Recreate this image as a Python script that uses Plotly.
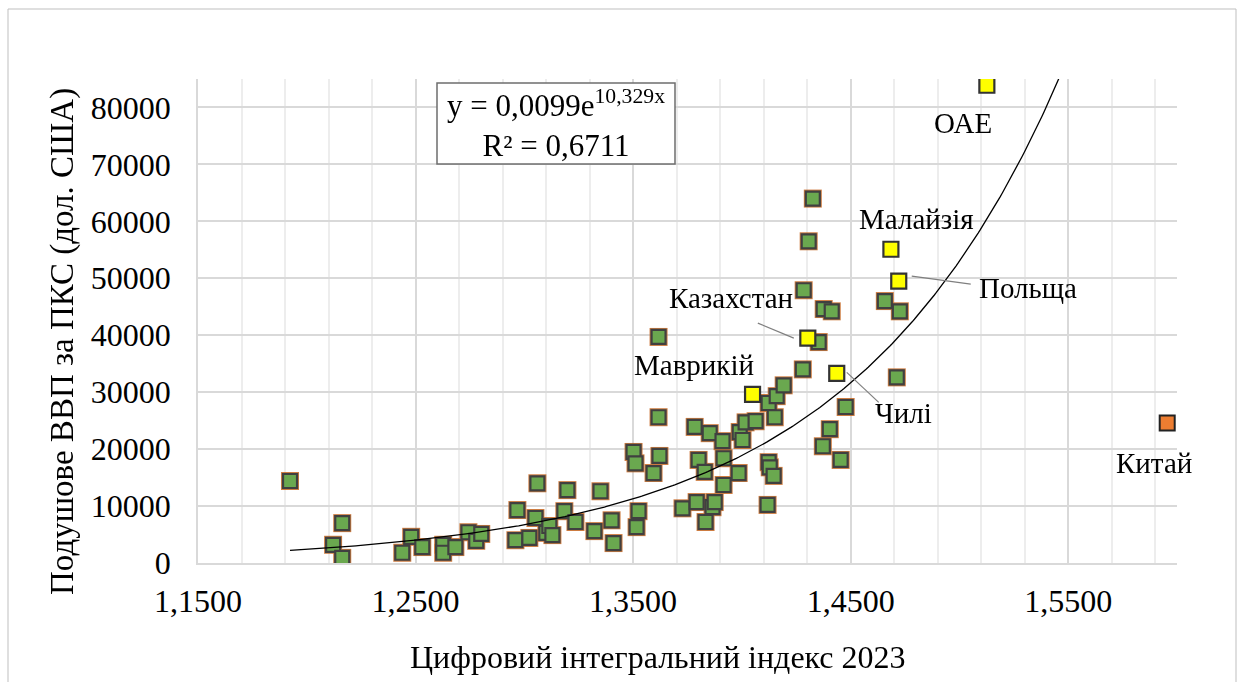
import numpy as np
import plotly.graph_objects as go

# ---------------- data ----------------
green_x = [1.1923, 1.2121, 1.2163, 1.2163, 1.2439, 1.2480, 1.2531, 1.2627, 1.2627, 1.2683,
           1.2743, 1.2779, 1.2802, 1.2959, 1.2968, 1.3023, 1.3051, 1.3060, 1.3101, 1.3115,
           1.3129, 1.3184, 1.3198, 1.3235, 1.3322, 1.3350, 1.3401, 1.3410, 1.3502, 1.3511,
           1.3516, 1.3525, 1.3594, 1.3617, 1.3617, 1.3621, 1.3727, 1.3783, 1.3792, 1.3801,
           1.3829, 1.3833, 1.3852, 1.3865, 1.3875, 1.3911, 1.3916, 1.3916, 1.3985, 1.3990,
           1.4003, 1.4017, 1.4063, 1.4118, 1.4123, 1.4128, 1.4146, 1.4123, 1.4151, 1.4160,
           1.4192, 1.4280, 1.4284, 1.4307, 1.4326, 1.4353, 1.4372, 1.4376, 1.4413, 1.4404,
           1.4454, 1.4477, 1.4657, 1.4712, 1.4726]
green_y = [14400, 3200, 7000, 900, 1800, 4600, 2800, 3200, 1800, 2800,
           5400, 3900, 5100, 4000, 9300, 4400, 7900, 14000, 5300, 6500,
           4900, 9100, 12800, 7200, 5600, 12600, 7500, 3500, 19500, 17500,
           6300, 9100, 15800, 25600, 39700, 18800, 9600, 23900, 10700, 18100,
           16000, 7200, 22800, 9800, 10700, 21400, 18400, 13700, 15800, 23000,
           21600, 24700, 24900, 10200, 17700, 16800, 15300, 28100, 25600, 29300,
           31200, 34000, 47900, 56500, 64000, 38800, 20500, 44600, 44200, 23500,
           18100, 27400, 46000, 32600, 44200]

hl_names = ["ОАЕ", "Малайзія", "Польща", "Казахстан", "Чилі", "Маврикій"]
hl_x = [1.5126, 1.4685, 1.4721, 1.4303, 1.4436, 1.4049]
hl_y = [83900, 55100, 49500, 39500, 33300, 29600]

china_name = "Китай"
china_x = [1.5955]
china_y = [24600]

TREND_A = 0.0099
TREND_B = 10.329
eq_text = "y = 0,0099e<sup>10,329x</sup><br>R² = 0,6711"

x_title = "Цифровий інтегральний індекс 2023"
y_title = "Подушове ВВП за ПКС (дол. США)"

# ---------------- layout helpers ----------------
W, H = 1239, 682
L, R, T, B = 198, 1177, 79, 563
FONT = "Liberation Serif"


def px(xp):
    return (xp - L) / (R - L)


def py(yp):
    return (B - yp) / (B - T)


fig = go.Figure()

# green points: orange halo under dark-bordered green squares
fig.add_trace(go.Scatter(x=green_x, y=green_y, mode="markers", hoverinfo="skip",
                         marker=dict(symbol="square", size=18, color="#C5651F",
                                     line=dict(width=0)), opacity=0.85, showlegend=False))
fig.add_trace(go.Scatter(x=green_x, y=green_y, mode="markers", showlegend=False,
                         marker=dict(symbol="square", size=14, color="#6AA84F",
                                     line=dict(color="#404040", width=2.2))))
# highlighted countries
fig.add_trace(go.Scatter(x=hl_x, y=hl_y, mode="markers", text=hl_names, showlegend=False,
                         marker=dict(symbol="square", size=15, color="#FFFF00",
                                     line=dict(color="#333333", width=2.2))))
fig.add_trace(go.Scatter(x=china_x, y=china_y, mode="markers", text=[china_name], showlegend=False,
                         marker=dict(symbol="square", size=15, color="#ED7D31",
                                     line=dict(color="#222222", width=2))))

# exponential trend line
all_x = green_x + hl_x + china_x
tx = np.linspace(min(all_x), max(all_x), 400)
ty = TREND_A * np.exp(TREND_B * tx)
fig.add_trace(go.Scatter(x=tx, y=ty, mode="lines", showlegend=False, hoverinfo="skip",
                         line=dict(color="black", width=1.3)))

# country labels (offsets in px relative to points)
label_offsets = {
    "ОАЕ": (-24, -38),
    "Малайзія": (26, 30),
    "Польща": (129, -7),
    "Казахстан": (-77, 40),
    "Чилі": (67, -40),
    "Маврикій": (-59, 29),
}
LABEL_SIZE = 29
annotations = []
for n, xv, yv in zip(hl_names, hl_x, hl_y):
    dx, dy = label_offsets[n]
    annotations.append(dict(x=xv, y=yv, xref="x", yref="y", text=n, showarrow=False,
                            xshift=dx, yshift=dy, xanchor="center", yanchor="middle",
                            font=dict(family=FONT, size=LABEL_SIZE, color="black")))
annotations.append(dict(x=china_x[0], y=china_y[0], xref="x", yref="y", text=china_name,
                        showarrow=False, xshift=-13, yshift=-40, xanchor="center", yanchor="middle",
                        font=dict(family=FONT, size=LABEL_SIZE, color="black")))

# equation
annotations.append(dict(x=px(556), y=py(124), xref="paper", yref="paper", text=eq_text,
                        showarrow=False, align="center", xanchor="center", yanchor="middle",
                        font=dict(family=FONT, size=31, color="black")))
# axis titles
annotations.append(dict(x=px(658), y=py(657), xref="paper", yref="paper", text=x_title,
                        showarrow=False, xanchor="center", yanchor="middle",
                        font=dict(family=FONT, size=32, color="black")))
annotations.append(dict(x=px(62), y=py(342), xref="paper", yref="paper", text=y_title,
                        showarrow=False, textangle=-90, xanchor="center", yanchor="middle",
                        font=dict(family=FONT, size=33, color="black")))

# leader lines (pixel offsets anchored at points)
leaders = {
    "Казахстан": (-50, 15, -14, 0),
    "Польща": (13, 5, 72, -3),
    "Чилі": (10, 1, 42, -29),
}
shapes = []
for n, xv, yv in zip(hl_names, hl_x, hl_y):
    if n in leaders:
        x0, y0, x1, y1 = leaders[n]
        shapes.append(dict(type="line", xref="x", yref="y", xsizemode="pixel", ysizemode="pixel",
                           xanchor=xv, yanchor=yv, x0=x0, y0=y0, x1=x1, y1=y1,
                           line=dict(color="#7F7F7F", width=1.2)))
# equation box
shapes.append(dict(type="rect", xref="paper", yref="paper", x0=px(437), x1=px(675),
                   y0=py(164), y1=py(83), line=dict(color="#6E6E6E", width=1.5),
                   fillcolor="white", layer="above"))
# outer chart border
shapes.append(dict(type="rect", xref="paper", yref="paper", x0=px(8), x1=px(1236),
                   y0=py(700), y1=py(9), line=dict(color="#BFBFBF", width=1),
                   fillcolor="rgba(0,0,0,0)", layer="below"))

fig.update_layout(
    width=W, height=H,
    margin=dict(l=L, r=W - R, t=T, b=H - B),
    paper_bgcolor="white", plot_bgcolor="white",
    separators=", ",
    font=dict(family=FONT, color="black"),
    annotations=annotations, shapes=shapes,
    showlegend=False,
)
fig.update_xaxes(range=[1.15, 1.60], tick0=1.15, dtick=0.1, tickformat=".4f",
                 showgrid=True, gridcolor="#D9D9D9", gridwidth=1.5,
                 minor=dict(tick0=1.15, dtick=0.02, showgrid=True, gridcolor="#EDEDED", gridwidth=1.5),
                 zeroline=False, showline=True, linecolor="#D9D9D9", linewidth=1.5,
                 ticks="", ticklabelstandoff=9,
                 tickfont=dict(family=FONT, size=32, color="black"))
fig.update_yaxes(range=[0, 85000], tick0=0, dtick=10000, tickformat="d",
                 showgrid=True, gridcolor="#D9D9D9", gridwidth=1.5,
                 zeroline=False, showline=True, linecolor="#D9D9D9", linewidth=1.5,
                 ticks="", ticklabelstandoff=19,
                 tickfont=dict(family=FONT, size=32, color="black"))

fig.write_html("out.html", config={"displayModeBar": False},
               post_script="document.body.style.margin='0';document.body.style.overflow='hidden';")
